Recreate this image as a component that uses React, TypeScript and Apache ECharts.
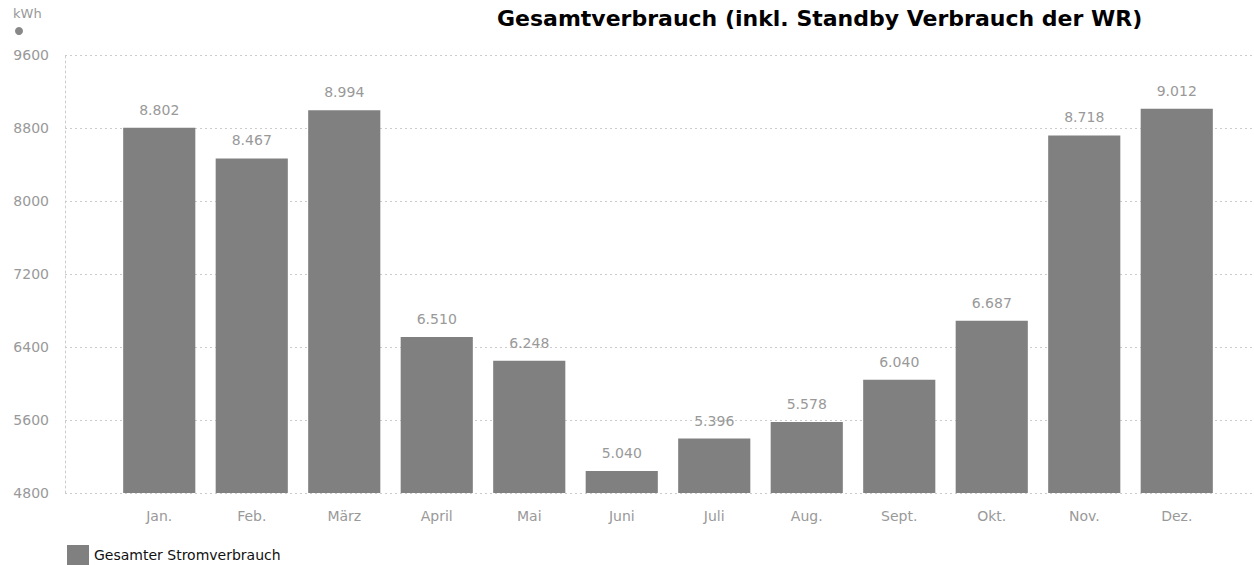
import React, { useEffect, useRef } from "react";
import * as echarts from "echarts";

const categories = ["Jan.", "Feb.", "März", "April", "Mai", "Juni", "Juli", "Aug.", "Sept.", "Okt.", "Nov.", "Dez."];
const values = [8802, 8467, 8994, 6510, 6248, 5040, 5396, 5578, 6040, 6687, 8718, 9012];
const seriesName = "Gesamter Stromverbrauch";
const titleText = "Gesamtverbrauch (inkl. Standby Verbrauch der WR)";
const unitText = "kWh";
const yMin = 4800;
const yMax = 9600;
const yInterval = 800;

const fmt = (v: number) => {
  const s = String(Math.round(v));
  return s.replace(/\B(?=(\d{3})+(?!\d))/g, ".");
};

export default function App() {
  const ref = useRef<HTMLDivElement>(null);
  useEffect(() => {
    if (!ref.current) return;
    const chart = echarts.init(ref.current, undefined, { renderer: "svg" });
    const font = "DejaVu Sans";
    chart.setOption({
      animation: false,
      textStyle: { fontFamily: font },
      title: {
        text: titleText,
        left: 492,
        top: 2,
        textStyle: { fontFamily: font, fontWeight: "bold", fontSize: 22, color: "#000" },
      },
      legend: {
        left: 62,
        top: 540,
        itemWidth: 22,
        itemHeight: 20,
        itemGap: 8,
        icon: "rect",
        textStyle: { fontFamily: font, fontSize: 14, color: "#111" },
        data: [seriesName],
      },
      graphic: [
        { type: "text", left: 13, top: 7, style: { text: unitText, fontSize: 13, fill: "#999", fontFamily: font } },
        { type: "circle", shape: { cx: 19, cy: 31, r: 4 }, style: { fill: "#888" } },
      ],
      grid: [
        { left: 65, right: 0, top: 55, bottom: 72 },
        { left: 113, right: 31, top: 55, bottom: 72 },
      ],
      xAxis: [
        { type: "category", gridIndex: 0, data: categories, show: false },
        {
          type: "category",
          gridIndex: 1,
          data: categories,
          axisLine: { show: false },
          axisTick: { show: false },
          axisLabel: { color: "#999", fontSize: 14, margin: 16, fontFamily: font },
        },
      ],
      yAxis: [
        {
          type: "value",
          gridIndex: 0,
          min: yMin,
          max: yMax,
          interval: yInterval,
          axisLine: { show: true, lineStyle: { color: "#ccc", type: [2, 3], width: 1 } },
          axisTick: { show: false },
          splitLine: { show: true, lineStyle: { color: "#ccc", type: [2, 3], width: 1 } },
          axisLabel: { color: "#999", fontSize: 14, margin: 16, fontFamily: font, formatter: (v: number) => String(v) },
        },
        { type: "value", gridIndex: 1, min: yMin, max: yMax, interval: yInterval, show: false, splitLine: { show: false } },
      ],
      series: [
        {
          name: seriesName,
          type: "bar",
          xAxisIndex: 1,
          yAxisIndex: 1,
          data: values,
          barWidth: "78%",
          itemStyle: { color: "#808080" },
          label: {
            show: true,
            position: "top",
            distance: 11,
            color: "#999",
            fontSize: 14,
            fontFamily: font,
            formatter: (p: any) => fmt(p.value),
          },
        },
      ],
    });
    return () => chart.dispose();
  }, []);
  return <div ref={ref} style={{ width: 1254, height: 565, position: "absolute", left: 0, top: 0 }} />;
}
